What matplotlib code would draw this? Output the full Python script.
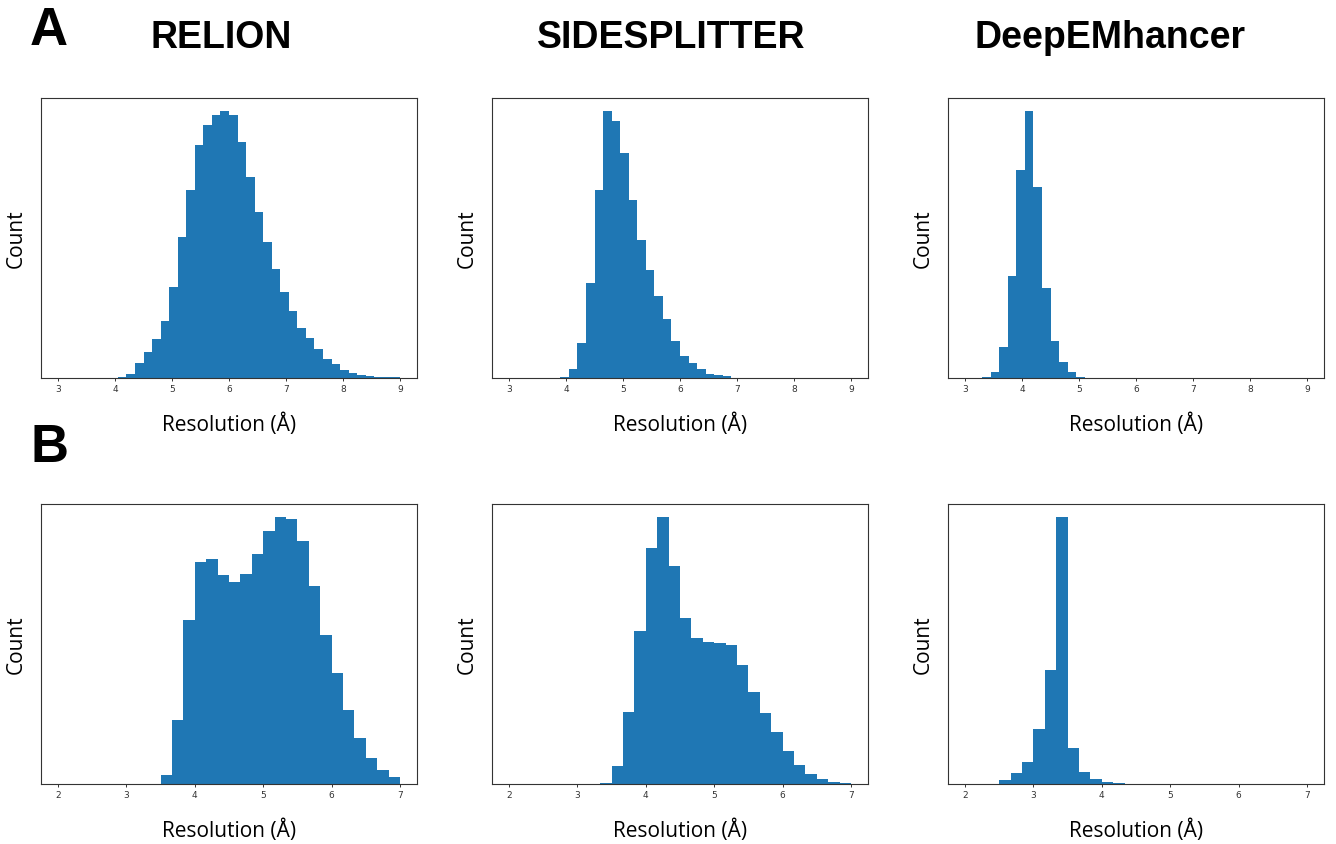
import numpy as np
import matplotlib
matplotlib.use("Agg")
import matplotlib.pyplot as plt

# histogram counts (arbitrary units, y axis is unlabelled)
methods = ["RELION", "SIDESPLITTER", "DeepEMhancer"]

# row A: 40 bins between 3 and 9 A
edges_a = np.linspace(3, 9, 41)
relion_a = [0, 0, 0, 0, 0, 0, 0,
            4, 13, 44, 79, 118, 171, 273, 423, 564, 698,
            759, 790, 800, 789, 707, 603, 499, 408, 327, 257,
            200, 151, 121, 86, 57, 41, 25, 14, 9, 5,
            3, 2, 2]
sidesplitter_a = [0, 0, 0, 0, 0, 0,
                  3, 28, 104, 285, 565, 800, 771, 676, 533, 415,
                  324, 247, 178, 110, 67, 45, 26, 13, 8, 5,
                  0, 0, 0, 0, 0, 0, 0, 0, 0, 0, 0, 0, 0, 0]
deepemhancer_a = [0, 0,
                  3, 17, 94, 305, 625, 800, 572, 269, 110, 48, 17, 3,
                  0, 0, 0, 0, 0, 0, 0, 0, 0, 0, 0, 0, 0, 0, 0, 0,
                  0, 0, 0, 0, 0, 0, 0, 0, 0, 0]

# row B: 30 bins between 2 and 7 A
edges_b = np.linspace(2, 7, 31)
relion_b = [0, 0, 0, 0, 0, 0, 0, 0, 0,
            27, 192, 491, 665, 675, 627, 605, 629, 689, 759,
            800, 795, 730, 595, 448, 333, 223, 137, 78, 41, 21]
sidesplitter_b = [0, 0, 0, 0, 0, 0, 0, 0,
                  3, 53, 216, 459, 707, 800, 653, 498, 437, 425, 422,
                  417, 357, 276, 212, 155, 100, 57, 29, 16, 5, 2]
deepemhancer_b = [0, 0, 0,
                  11, 34, 66, 165, 343, 800, 108, 36, 16, 7, 2,
                  0, 0, 0, 0, 0, 0, 0, 0, 0, 0, 0, 0, 0, 0, 0, 0]

rows = [
    (edges_a, [relion_a, sidesplitter_a, deepemhancer_a], [3, 4, 5, 6, 7, 8, 9]),
    (edges_b, [relion_b, sidesplitter_b, deepemhancer_b], [2, 3, 4, 5, 6, 7]),
]

W, H = 1336, 845
fig = plt.figure(figsize=(W / 100, H / 100), dpi=100)

col_left = [41, 492, 948]       # pixel positions of the panels
row_top = [99, 505]
ax_w, ax_h = 376, 280

label_font = "Open Sans"
for r, (edges, series, ticks) in enumerate(rows):
    for c, counts in enumerate(series):
        ax = fig.add_axes([col_left[c] / W, 1 - (row_top[r] + ax_h) / H, ax_w / W, ax_h / H])
        ax.hist(edges[:-1], bins=edges, weights=counts, color="#1f77b4")
        ax.set_xticks(ticks)
        ax.set_yticks([])
        ax.tick_params(axis="x", labelsize=6.5, length=2.5, width=0.7, pad=2, colors="#333333")
        for s in ax.spines.values():
            s.set_linewidth(0.8)
            s.set_color("#333333")
        ax.set_xlabel("Resolution (Å)", fontsize=15, family=label_font, labelpad=14)
        ax.set_ylabel("Count", fontsize=15, family=label_font, labelpad=10)

# column titles and panel letters
title_x = [221, 671, 1110]
for name, x in zip(methods, title_x):
    fig.text(x / W, 1 - 38 / H, name, ha="center", va="center",
             fontsize=27, fontweight="bold", family="Liberation Sans")
fig.text(49 / W, 1 - 31 / H, "A", ha="center", va="center",
         fontsize=38, fontweight="bold", family="Liberation Sans")
fig.text(50 / W, 1 - 448 / H, "B", ha="center", va="center",
         fontsize=38, fontweight="bold", family="Liberation Sans")

fig.savefig("out.png", dpi=100)
